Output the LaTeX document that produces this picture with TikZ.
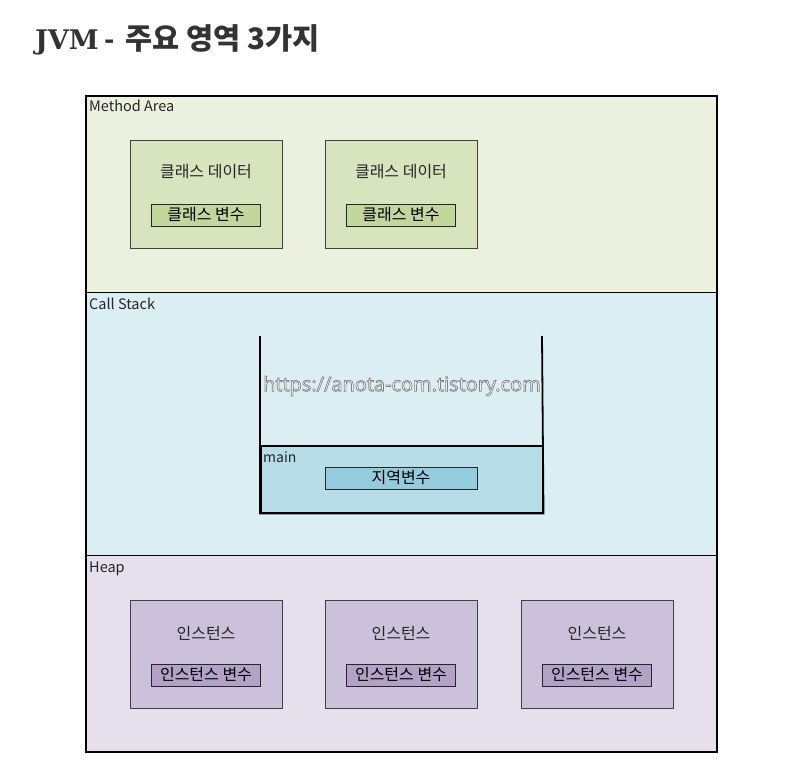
\documentclass[tikz,border=0pt]{standalone}
\usepackage{fontspec}
\setmainfont{Noto Sans CJK KR}
\newfontfamily\slabfont{DejaVu Serif}
\newfontfamily\markfont{Open Sans}
\definecolor{methodbg}{HTML}{EBF1DE}
\definecolor{classbox}{HTML}{D7E4BD}
\definecolor{classvar}{HTML}{C3D69B}
\definecolor{stackbg}{HTML}{DBEEF4}
\definecolor{mainbg}{HTML}{B7DEE8}
\definecolor{localvar}{HTML}{93CDDD}
\definecolor{heapbg}{HTML}{E6E0EC}
\definecolor{instbox}{HTML}{CCC1DA}
\definecolor{instvar}{HTML}{B3A2C7}
% white letters with a grey rim
\newcommand{\rimtext}[1]{\special{pdf:literal direct 2 Tr 0.7 w 0.5 G}#1\special{pdf:literal direct 0 Tr}}

\begin{document}
\begin{tikzpicture}[x=1pt, y=-1pt,
    area/.style={draw=black, line width=1.2pt, inner sep=0pt, minimum width=630pt, anchor=north west},
    arealabel/.style={anchor=base west, inner sep=0pt, font=\fontsize{14.5}{16}\selectfont, text=black!85},
    databox/.style={draw=black!75, line width=0.8pt, inner sep=0pt, minimum width=152pt, minimum height=108pt},
    varbox/.style={draw=black!85, line width=0.8pt, inner sep=0pt, minimum width=109pt, minimum height=22pt, font=\fontsize{16}{18}\selectfont},
    boxtitle/.style={inner sep=0pt, font=\fontsize{16}{18}\selectfont, text=black!85}]
%      \draw [help lines] (0,0) grid[step=50] (792,778);

      \useasboundingbox [fill=white] (0,0) rectangle (792,778);

      \node [anchor=west, inner sep=0pt, text=black!80, font=\fontsize{27}{30}\selectfont\bfseries] (title) at (35,40)
        {{\slabfont JVM}\hspace{6pt}-\hspace{10pt}{\fontsize{29.5}{32}\selectfont 주요 영역 3가지}};

      % three regions
      \node [area, fill=methodbg, minimum height=196pt] (method) at (86,96) {};
      \node [area, fill=stackbg, minimum height=263pt] (stack) at (86,292) {};
      \node [area, fill=heapbg, minimum height=196pt] (heap) at (86,555) {};
      \draw [line width=1.8pt] (method.north west) rectangle (heap.south east);

      \node [arealabel] (methodlabel) at (89,112) {Method Area};
      \node [arealabel] (stacklabel) at (89,309) {Call Stack};
      \node [arealabel] (heaplabel) at (89,572) {Heap};

      % method area
      \node [databox, fill=classbox] (class1) at (206,194) {};
      \node [boxtitle] (class1title) at (206,172) {클래스 데이터};
      \node [varbox, fill=classvar] (class1var) at (206,215) {클래스 변수};

      \node [databox, fill=classbox] (class2) at (401,194) {};
      \node [boxtitle] (class2title) at (401,172) {클래스 데이터};
      \node [varbox, fill=classvar] (class2var) at (401,215) {클래스 변수};

      % call stack
      \coordinate (stacktopl) at (260,336);
      \coordinate (stacktopr) at (542,336);
      \node [draw=black, line width=1.5pt, fill=mainbg, inner sep=0pt,
        minimum width=282pt, minimum height=67pt, anchor=north west] (mainframe) at (260,445) {};
      \draw [line width=1.8pt] (stacktopl) -- (mainframe.south west) -- (mainframe.south east) -- (stacktopr);
      \node [arealabel, font=\fontsize{14}{16}\selectfont] (mainlabel) at (263,462) {main};
      \node [varbox, fill=localvar, minimum width=152pt] (localvar) at (401,478) {지역변수};

      \node [inner sep=0pt, text=white] (watermark) at (402,386)
        {\markfont\fontsize{20}{22}\selectfont\rimtext{https://anota-com.tistory.com}};

      % heap
      \node [databox, fill=instbox] (inst1) at (206,654) {};
      \node [boxtitle] (inst1title) at (206,633) {인스턴스};
      \node [varbox, fill=instvar] (inst1var) at (206,675) {인스턴스 변수};

      \node [databox, fill=instbox] (inst2) at (401,654) {};
      \node [boxtitle] (inst2title) at (401,633) {인스턴스};
      \node [varbox, fill=instvar] (inst2var) at (401,675) {인스턴스 변수};

      \node [databox, fill=instbox] (inst3) at (597,654) {};
      \node [boxtitle] (inst3title) at (597,633) {인스턴스};
      \node [varbox, fill=instvar] (inst3var) at (597,675) {인스턴스 변수};

\end{tikzpicture}
\end{document}
